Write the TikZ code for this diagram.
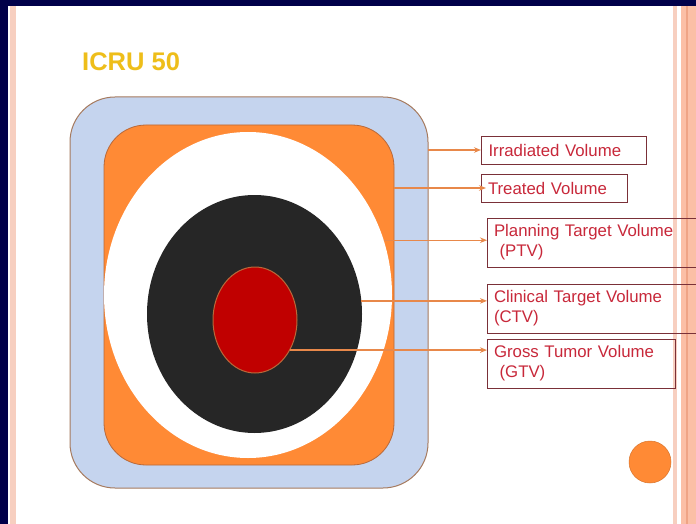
\documentclass[tikz,border=0pt]{standalone}
\usepackage{fontspec}
\setmainfont{Liberation Sans}
\usetikzlibrary{shapes.geometric,arrows.meta}
\definecolor{navy}{HTML}{00004A}
\definecolor{stripe}{HTML}{F7CFC0}
\definecolor{stripedark}{HTML}{FBBFA6}
\definecolor{stripeline}{HTML}{EFA486}
\definecolor{pale}{HTML}{C5D4EE}
\definecolor{palerim}{HTML}{A67A5E}
\definecolor{orangefill}{HTML}{FF8A35}
\definecolor{orangerim}{HTML}{B8693A}
\definecolor{coal}{HTML}{262626}
\definecolor{tumor}{HTML}{C00000}
\definecolor{pointer}{HTML}{E8884A}
\definecolor{labelred}{HTML}{C8283A}
\definecolor{labelrim}{HTML}{7A3038}
\definecolor{gold}{HTML}{EEBE1A}
\begin{document}
\begin{tikzpicture}[x=1pt,y=-1pt,
  region/.style={inner sep=0pt,outer sep=0pt},
  oval/.style={region,ellipse},
  labelbox/.style={draw=labelrim,line width=0.9pt,anchor=north west,
    inner xsep=7pt,inner ysep=0pt,outer sep=0pt,text=labelred,
    font=\fontsize{16.8}{20}\selectfont,align=left},
  pointer/.style={draw=pointer,line width=1.3pt,
    -{Stealth[length=7pt,width=5.5pt]}}]
\useasboundingbox (0,0) rectangle (696,524);
% slide background and border stripes
\fill[navy] (0,0) rectangle (696,524);
\fill[white] (8,6) rectangle (696,524);
\fill[stripe] (10,6) rectangle (16,524);
\fill[stripe] (673,6) rectangle (677,524);
\fill[stripedark] (681,6) rectangle (696,524);
\fill[stripeline] (686,6) rectangle (688,524);
% title
\node[anchor=base west,inner sep=0pt,text=gold,
  font=\fontsize{25.5}{30}\selectfont\bfseries] (title) at (82,71) {ICRU 50};
% nested volumes
\node[region,rectangle,rounded corners=45pt,fill=pale,draw=palerim,line width=1pt,
  minimum width=358pt,minimum height=391pt] (irr) at (249,292.5) {};
\node[region,rectangle,rounded corners=42pt,fill=orangefill,draw=orangerim,line width=0.8pt,
  minimum width=290pt,minimum height=340pt] (treat) at (249,295) {};
\node[oval,fill=white,minimum width=288pt,minimum height=326pt] (ptv) at (248,295) {};
\node[oval,fill=coal,minimum width=215pt,minimum height=238pt] (ctv) at (254.5,314) {};
\node[oval,fill=tumor,draw=orangerim,line width=1pt,
  minimum width=84pt,minimum height=106pt] (gtv) at (255,320) {};
% labels
\node[labelbox,minimum width=165pt,minimum height=28pt,text width=150pt] (l1) at (481,136) {Irradiated Volume};
\node[labelbox,minimum width=146pt,minimum height=28pt,text width=132pt,inner xsep=4pt] (l2) at (481,174) {Treated Volume};
\node[labelbox,minimum width=209pt,minimum height=49pt,text width=195pt] (l3) at (487,218) {Planning Target Volume\\\ (PTV)};
\node[labelbox,minimum width=209pt,minimum height=49pt,text width=195pt] (l4) at (487,284) {Clinical Target Volume\\(CTV)};
\node[labelbox,minimum width=188pt,minimum height=49pt,text width=174pt] (l5) at (487,339) {Gross Tumor Volume\\\ (GTV)};
% pointers
\draw[pointer] (l1.west -| irr.east) -- (l1.west);
\draw[pointer] (l2.west -| treat.east) -- ([xshift=5pt]l2.west);
\draw[pointer] (ptv.22) -- (ptv.22 -| l3.west);
\draw[pointer] (ctv.7.5) -- (ctv.7.5 -| l4.west);
\draw[pointer] (gtv.-41) -- (gtv.-41 -| l5.west);
% corner dot
\node[circle,fill=orangefill,draw=orangefill!85!black,line width=0.5pt,
  minimum size=42pt,inner sep=0pt] (dot) at (650,462) {};
\end{tikzpicture}
\end{document}
